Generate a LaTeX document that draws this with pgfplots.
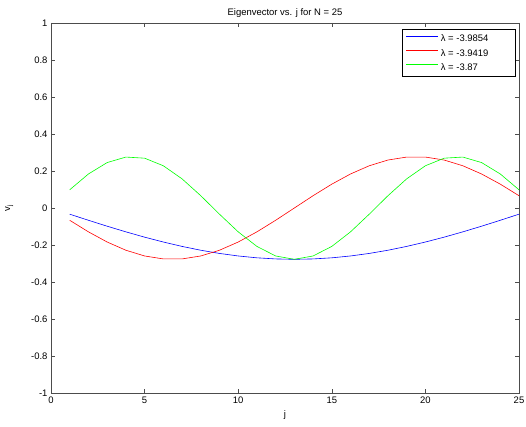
\documentclass[border=0pt]{standalone}
\usepackage{pgfplots}
\pgfplotsset{compat=1.18}
\usepackage{fontspec}
\setmainfont{Liberation Sans}
\newcommand\legentry[1]{\makebox[68bp][l]{#1}}

% eigenvectors of the N = 25 second-difference matrix
\pgfplotstableread{
j    v1       v2       v3
1   -0.0334  -0.0664   0.0984
2   -0.0664  -0.1289   0.1839
3   -0.0984  -0.1839   0.2456
4   -0.1289  -0.2283   0.2753
5   -0.1576  -0.2593   0.2693
6   -0.1839  -0.2753   0.2283
7   -0.2076  -0.2753   0.1576
8   -0.2283  -0.2593   0.0664
9   -0.2456  -0.2283  -0.0334
10  -0.2593  -0.1839  -0.1289
11  -0.2693  -0.1289  -0.2076
12  -0.2753  -0.0664  -0.2593
13  -0.2774   0.0000  -0.2774
14  -0.2753   0.0664  -0.2593
15  -0.2693   0.1289  -0.2076
16  -0.2593   0.1839  -0.1289
17  -0.2456   0.2283  -0.0334
18  -0.2283   0.2593   0.0664
19  -0.2076   0.2753   0.1576
20  -0.1839   0.2753   0.2283
21  -0.1576   0.2593   0.2693
22  -0.1289   0.2283   0.2753
23  -0.0984   0.1839   0.2456
24  -0.0664   0.1289   0.1839
25  -0.0334   0.0664   0.0984
}\eigvecs

\begin{document}
\begin{tikzpicture}[font=\fontsize{9.5}{11}\selectfont]
\begin{axis}[
    scale only axis,
    width=468bp, height=370bp,
    xmin=0, xmax=25, ymin=-1, ymax=1,
    xtick={0,5,...,25},
    ytick={-1,-0.8,...,1},
    yticklabel style={/pgf/number format/fixed,/pgf/number format/precision=1},
    /pgf/number format/assume math mode=true,
    tick align=inside,
    major tick length=4bp,
    axis line style={black!70, line width=0.8pt},
    tick style={black!70, line width=0.6pt},
    title={Eigenvector vs. j for N = 25},
    title style={yshift=-4bp},
    xlabel={j},
    ylabel={v\textsubscript{j}},
    xlabel style={yshift=-1bp},
    ylabel style={yshift=11bp},
    legend style={at={(0.9915,0.984)}, anchor=north east,
        font=\fontsize{9.5}{12}\selectfont, row sep=3.5pt,
        inner xsep=4pt, inner ysep=4pt,
        nodes={text depth=0pt}},
    legend cell align=left,
    legend image code/.code={\draw[#1, line width=1pt] (0bp,2.5bp) -- (32bp,2.5bp);},
]
\addplot[draw=blue, line width=0.6pt] table[x=j, y=v1] {\eigvecs};
\addplot[draw=red, line width=0.6pt] table[x=j, y=v2] {\eigvecs};
\addplot[draw=green, line width=0.6pt] table[x=j, y=v3] {\eigvecs};
\legend{\legentry{λ = -3.9854}, \legentry{λ = -3.9419}, \legentry{λ = -3.87}}
\end{axis}
\pgfresetboundingbox
\path[use as bounding box] (-51bp,-34bp) rectangle (475bp,393bp);
\end{tikzpicture}
\end{document}
